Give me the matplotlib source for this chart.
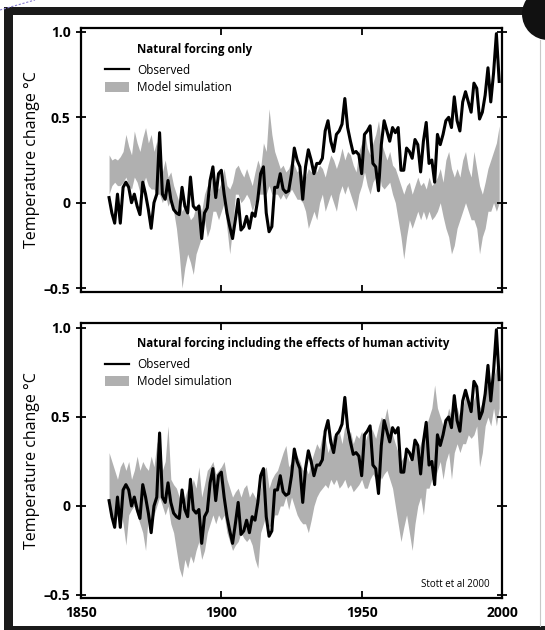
import matplotlib
matplotlib.use("Agg")
import matplotlib.pyplot as plt
from matplotlib.lines import Line2D
from matplotlib.patches import Patch, Rectangle, Ellipse

plt.rcParams["font.family"] = ["Open Sans", "DejaVu Sans"]

YEARS = list(range(1860, 2000))

OBSERVED = [
    0.03, -0.06, -0.12, 0.05, -0.12, 0.09, 0.12, 0.09, 0.00, 0.05,
    -0.02, -0.07, 0.12, 0.05, -0.04, -0.15, 0.00, 0.05, 0.41, 0.05,
    0.02, 0.13, 0.02, -0.04, -0.06, -0.07, 0.09, -0.02, -0.06, 0.15,
    -0.02, -0.04, -0.02, -0.21, -0.06, -0.03, 0.13, 0.21, 0.03, 0.17,
    0.19, 0.05, -0.06, -0.14, -0.21, -0.10, 0.02, -0.16, -0.14, -0.08,
    -0.15, -0.06, -0.08, 0.02, 0.17, 0.21, -0.06, -0.17, -0.14, 0.09,
    0.09, 0.17, 0.08, 0.06, 0.07, 0.17, 0.32, 0.25, 0.21, 0.02,
    0.21, 0.31, 0.25, 0.17, 0.23, 0.23, 0.26, 0.42, 0.48, 0.36,
    0.30, 0.40, 0.42, 0.46, 0.61, 0.44, 0.36, 0.29, 0.30, 0.28,
    0.17, 0.40, 0.42, 0.45, 0.23, 0.21, 0.07, 0.34, 0.48, 0.42,
    0.36, 0.44, 0.41, 0.44, 0.19, 0.19, 0.32, 0.30, 0.26, 0.37,
    0.34, 0.18, 0.36, 0.47, 0.23, 0.25, 0.12, 0.40, 0.34, 0.40,
    0.48, 0.50, 0.44, 0.62, 0.48, 0.42, 0.59, 0.65, 0.59, 0.53,
    0.70, 0.67, 0.49, 0.53, 0.63, 0.79, 0.59, 0.76, 0.99, 0.71,
]

# model envelope, natural forcing only
NAT_UPPER = [
    0.28, 0.25, 0.26, 0.25, 0.27, 0.30, 0.40, 0.33, 0.28, 0.42,
    0.35, 0.30, 0.38, 0.44, 0.35, 0.40, 0.30, 0.36, 0.25, 0.18,
    0.25, 0.15, 0.18, 0.10, 0.05, 0.00, -0.05, -0.02, -0.05, -0.10,
    -0.08, -0.02, 0.00, -0.05, 0.05, 0.10, 0.05, 0.18, 0.10, 0.08,
    0.12, 0.20, 0.10, 0.08, 0.12, 0.20, 0.22, 0.18, 0.15, 0.20,
    0.15, 0.10, 0.18, 0.25, 0.20, 0.35, 0.30, 0.55, 0.40, 0.30,
    0.25, 0.20, 0.22, 0.18, 0.20, 0.25, 0.22, 0.18, 0.20, 0.15,
    0.15, 0.20, 0.18, 0.22, 0.18, 0.22, 0.20, 0.15, 0.22, 0.28,
    0.25, 0.20, 0.25, 0.32, 0.25, 0.30, 0.28, 0.22, 0.18, 0.30,
    0.35, 0.42, 0.32, 0.28, 0.35, 0.40, 0.48, 0.35, 0.30, 0.25,
    0.30, 0.22, 0.20, 0.15, 0.10, 0.05, 0.10, 0.12, 0.05, 0.10,
    0.15, 0.10, 0.12, 0.08, 0.15, 0.10, 0.12, 0.15, 0.20, 0.12,
    0.25, 0.30, 0.20, 0.15, 0.20, 0.15, 0.25, 0.30, 0.20, 0.15,
    0.30, 0.20, 0.10, 0.05, 0.12, 0.20, 0.25, 0.30, 0.35, 0.45,
]
NAT_LOWER = [
    0.05, 0.10, 0.12, 0.10, 0.10, 0.12, 0.15, 0.10, 0.08, 0.15,
    0.12, 0.06, 0.10, 0.15, 0.10, 0.08, 0.08, 0.05, 0.05, 0.00,
    0.05, -0.02, 0.02, -0.05, -0.15, -0.30, -0.50, -0.38, -0.30, -0.35,
    -0.42, -0.30, -0.25, -0.20, -0.10, -0.20, -0.15, -0.05, -0.05, -0.10,
    -0.05, 0.00, -0.15, -0.30, -0.15, 0.05, 0.05, 0.00, 0.02, 0.05,
    0.02, -0.05, 0.00, 0.05, 0.05, 0.05, 0.05, 0.10, 0.05, 0.05,
    0.05, 0.02, 0.05, 0.02, 0.05, 0.08, 0.05, 0.02, 0.02, 0.00,
    -0.05, -0.15, -0.10, -0.05, -0.10, 0.00, 0.05, -0.05, 0.00, 0.05,
    0.00, -0.05, 0.05, 0.10, 0.05, 0.10, 0.05, 0.00, -0.05, 0.05,
    0.10, 0.18, 0.10, 0.05, 0.12, 0.15, 0.20, 0.10, 0.08, 0.10,
    0.12, 0.05, 0.00, -0.10, -0.20, -0.33, -0.20, -0.10, -0.15, -0.10,
    -0.05, -0.10, -0.05, -0.10, -0.05, -0.10, -0.08, -0.05, 0.00, -0.08,
    -0.15, -0.20, -0.30, -0.25, -0.15, -0.10, -0.05, 0.00, -0.05, -0.10,
    -0.10, -0.15, -0.30, -0.20, -0.15, -0.05, -0.05, 0.00, -0.05, 0.00,
]

# model envelope, natural + human forcing
ALL_UPPER = [
    0.30, 0.25, 0.20, 0.15, 0.22, 0.25, 0.20, 0.25, 0.15, 0.20,
    0.28, 0.20, 0.25, 0.22, 0.20, 0.28, 0.22, 0.35, 0.40, 0.20,
    0.25, 0.45, 0.15, 0.12, 0.10, 0.05, 0.00, 0.05, 0.10, 0.08,
    0.15, 0.10, 0.22, 0.05, 0.12, 0.20, 0.22, 0.25, 0.18, 0.20,
    0.22, 0.25, 0.15, 0.10, 0.05, 0.08, 0.10, 0.05, 0.10, 0.12,
    0.05, 0.08, 0.05, 0.02, 0.10, 0.20, 0.22, 0.10, 0.15, 0.18,
    0.20, 0.25, 0.30, 0.34, 0.22, 0.25, 0.30, 0.28, 0.25, 0.20,
    0.22, 0.18, 0.25, 0.30, 0.35, 0.32, 0.40, 0.38, 0.30, 0.35,
    0.40, 0.38, 0.42, 0.35, 0.45, 0.38, 0.42, 0.35, 0.40, 0.38,
    0.42, 0.35, 0.40, 0.45, 0.42, 0.38, 0.45, 0.50, 0.48, 0.55,
    0.45, 0.40, 0.35, 0.30, 0.25, 0.28, 0.30, 0.25, 0.30, 0.35,
    0.30, 0.35, 0.40, 0.45, 0.50, 0.55, 0.68, 0.55, 0.50, 0.45,
    0.48, 0.55, 0.50, 0.58, 0.55, 0.50, 0.55, 0.62, 0.58, 0.55,
    0.60, 0.65, 0.55, 0.58, 0.65, 0.70, 0.65, 0.72, 0.78, 0.70,
]
ALL_LOWER = [
    0.00, -0.05, -0.08, -0.05, -0.02, -0.10, -0.22, -0.05, -0.02, 0.00,
    -0.05, -0.10, -0.15, -0.25, -0.05, -0.10, -0.05, 0.00, 0.05, 0.00,
    -0.05, 0.00, -0.10, -0.15, -0.25, -0.35, -0.40, -0.30, -0.35, -0.28,
    -0.32, -0.25, -0.20, -0.30, -0.25, -0.15, -0.10, -0.05, -0.10, -0.05,
    -0.08, -0.05, -0.15, -0.20, -0.25, -0.22, -0.20, -0.15, -0.18, -0.20,
    -0.18, -0.22, -0.30, -0.35, -0.15, -0.10, -0.05, -0.12, -0.10, -0.05,
    -0.05, 0.00, 0.00, 0.05, -0.02, 0.05, 0.00, -0.05, -0.08, -0.10,
    -0.10, -0.15, -0.08, 0.00, 0.05, 0.08, 0.10, 0.12, 0.10, 0.15,
    0.12, 0.15, 0.10, 0.12, 0.15, 0.10, 0.12, 0.08, 0.10, 0.12,
    0.15, 0.10, 0.10, 0.15, 0.18, 0.15, 0.20, 0.15, 0.18, 0.20,
    0.15, 0.10, 0.00, -0.10, -0.20, -0.12, -0.05, -0.15, -0.25, -0.10,
    0.00, 0.05, -0.05, 0.10, 0.10, 0.15, 0.15, 0.20, 0.25, 0.15,
    0.25, 0.30, 0.15, 0.30, 0.35, 0.30, 0.35, 0.35, 0.40, 0.38,
    0.40, 0.45, 0.22, 0.30, 0.45, 0.50, 0.45, 0.55, 0.45, 0.55,
]

PANEL_TITLES = [
    "Natural forcing only",
    "Natural forcing including the effects of human activity",
]
XTICKS = [1850, 1900, 1950, 2000]
YTICKS = [-0.5, 0, 0.5, 1.0]
YTICK_LABELS = ["\u20130.5", "0", "0.5", "1.0"]
BAND_COLOR = "#b0b0b0"

W, H = 545, 630


def fig_rect(x0, y0, x1, y1):
    # pixel box (top-left origin) -> figure fraction rect
    return [x0 / W, 1 - y1 / H, (x1 - x0) / W, (y1 - y0) / H]


def draw_panel(ax, lower, upper, title, ylim, show_xlabels, title_y, legend_y):
    ax.fill_between(YEARS, lower, upper, color=BAND_COLOR, lw=0, zorder=1)
    ax.plot(YEARS, OBSERVED, color="black", lw=2.2, zorder=3)
    ax.set_xlim(1850, 2000)
    ax.set_ylim(*ylim)
    ax.set_xticks(XTICKS)
    ax.set_yticks(YTICKS)
    ax.set_yticklabels(YTICK_LABELS)
    ax.tick_params(axis="x", direction="in", top=True, bottom=True, length=5, width=1.3,
                   labelsize=10, pad=6, labelbottom=show_xlabels)
    ax.tick_params(axis="y", direction="inout", right=True, length=7, width=1.3,
                   labelsize=10, pad=4)
    for lab in ax.get_xticklabels() + ax.get_yticklabels():
        lab.set_fontweight("bold")
    for sp in ax.spines.values():
        sp.set_linewidth(1.6)
    ax.set_ylabel("Temperature change \u00b0C", fontsize=11.5)
    ax.yaxis.set_label_coords(-0.097, 0.5)

    ax.text(0.133, title_y, title, transform=ax.transAxes, fontsize=8.3,
            fontweight="bold", va="center", ha="left")
    handles = [Line2D([], [], color="black", lw=1.6),
               Patch(facecolor=BAND_COLOR, edgecolor="none")]
    ax.legend(handles, ["Observed", "Model simulation"], loc="upper left",
              bbox_to_anchor=(0.058, legend_y), frameon=False, fontsize=8.5,
              handlelength=2.0, handleheight=0.9, handletextpad=0.7,
              labelspacing=0.35, borderpad=0, borderaxespad=0)


fig = plt.figure(figsize=(W / 100, H / 100), dpi=100)
fig.patch.set_facecolor("white")

ax1 = fig.add_axes(fig_rect(81, 28, 502, 292))
draw_panel(ax1, NAT_LOWER, NAT_UPPER, PANEL_TITLES[0], (-0.523, 1.023), False, 0.917, 0.865)

ax2 = fig.add_axes(fig_rect(81, 323, 502, 598))
draw_panel(ax2, ALL_LOWER, ALL_UPPER, PANEL_TITLES[1], (-0.517, 1.028), True, 0.927, 0.872)
ax2.text(0.971, 0.05, "Stott et al 2000", transform=ax2.transAxes, fontsize=7,
         ha="right", va="center")

# scanned page frame
fig.add_artist(Rectangle((4 / W, 0), 9 / W, 1 - 7 / H, transform=fig.transFigure,
                         facecolor="#1a1a1a", edgecolor="none"))
fig.add_artist(Rectangle((4 / W, 1 - 15 / H), 519 / W, 8 / H, transform=fig.transFigure,
                         facecolor="#1a1a1a", edgecolor="none"))
fig.add_artist(Rectangle((4 / W, 0), 541 / W, 4 / H, transform=fig.transFigure,
                         facecolor="#1a1a1a", edgecolor="none"))
fig.add_artist(Ellipse((548 / W, 1 - 14 / H), 52 / W, 52 / H, transform=fig.transFigure,
                       facecolor="#111111", edgecolor="none"))
fig.add_artist(Line2D([540 / W, 540 / W], [4 / H, 1 - 40 / H], transform=fig.transFigure,
                      color="#c8c8c8", lw=0.8))
fig.add_artist(Line2D([0, 35 / W], [1 - 10 / H, 1], transform=fig.transFigure,
                      color="#8a80d0", lw=0.8, ls=(0, (2, 1.5))))

fig.savefig("out.png", dpi=100)
